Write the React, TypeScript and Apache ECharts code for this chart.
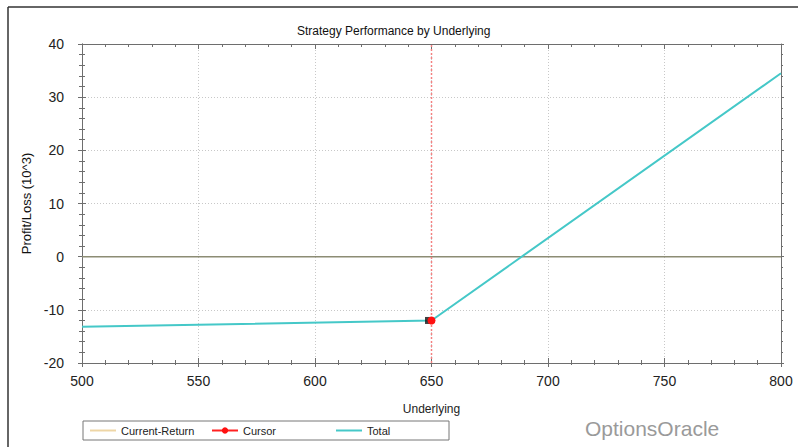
import React, { useEffect, useRef } from "react";
import * as echarts from "echarts";

const underlying = [500, 650, 800];
const total = [-13.2, -12.0, 34.5];
const currentReturn = [0, 0, 0];
const cursorX = [650];
const cursorY = [-12.0];
const xTicks = { min: 500, max: 800, interval: 50 };
const yTicks = { min: -20, max: 40, interval: 10 };

const FONT = "'Liberation Sans', Arial, sans-serif";

export default function App() {
  const ref = useRef<HTMLDivElement>(null);
  useEffect(() => {
    const chart = echarts.init(ref.current!, undefined, { renderer: "svg" });
    const axisColor = "#6e6e6e";
    const gridStyle = { show: true, lineStyle: { color: "#c8c8c8", type: [1, 2] as any, width: 1 } };
    const baseX = {
      type: "value" as const,
      min: xTicks.min,
      max: xTicks.max,
      interval: xTicks.interval,
      axisLine: { show: true, onZero: false, lineStyle: { color: axisColor, width: 1 } },
    };
    const baseY = {
      type: "value" as const,
      min: yTicks.min,
      max: yTicks.max,
      interval: yTicks.interval,
      axisLine: { show: true, onZero: false, lineStyle: { color: axisColor, width: 1 } },
    };
    const legendText = { fontFamily: FONT, fontSize: 11, color: "#222" };
    chart.setOption({
      animation: false,
      backgroundColor: "#ffffff",
      title: {
        text: "Strategy Performance by Underlying",
        left: 292,
        top: 20,
        textStyle: { fontFamily: FONT, fontSize: 12, fontWeight: "normal", color: "#111" },
      },
      grid: { left: 82, top: 44, right: 17, bottom: 84 },
      legend: [
        {
          left: 85,
          top: 420,
          itemWidth: 26,
          itemHeight: 2,
          icon: "rect",
          data: [{ name: "Current-Return", itemStyle: { color: "#eed6a6" } }],
          textStyle: legendText,
        },
        {
          left: 206,
          top: 420,
          itemWidth: 26,
          itemHeight: 8,
          data: [{ name: "Cursor" }],
          textStyle: legendText,
        },
        {
          left: 331,
          top: 420,
          itemWidth: 26,
          itemHeight: 2,
          icon: "rect",
          data: [{ name: "Total" }],
          textStyle: legendText,
        },
      ],
      xAxis: [
        {
          ...baseX,
          position: "bottom",
          name: "Underlying",
          nameLocation: "middle",
          nameGap: 40,
          nameTextStyle: { fontFamily: FONT, fontSize: 12, color: "#222" },
          axisLabel: { fontFamily: FONT, fontSize: 14, color: "#222", margin: 11 },
          axisTick: { show: true, inside: false, length: 4, lineStyle: { color: axisColor } },
          minorTick: { show: true, splitNumber: 5, length: 2, lineStyle: { color: axisColor } },
          splitLine: gridStyle,
        },
        {
          ...baseX,
          position: "bottom",
          axisLabel: { show: false },
          axisTick: { show: true, inside: true, length: 5, lineStyle: { color: axisColor } },
          minorTick: { show: true, splitNumber: 5, length: 3, lineStyle: { color: axisColor } },
          splitLine: { show: false },
        },
        {
          ...baseX,
          position: "top",
          axisLabel: { show: false },
          axisTick: { show: true, inside: true, length: 5, lineStyle: { color: axisColor } },
          minorTick: { show: true, splitNumber: 5, length: 3, lineStyle: { color: axisColor } },
          splitLine: { show: false },
        },
      ],
      yAxis: [
        {
          ...baseY,
          position: "left",
          name: "Profit/Loss (10^3)",
          nameLocation: "middle",
          nameGap: 47,
          nameRotate: 90,
          nameTextStyle: { fontFamily: FONT, fontSize: 13, color: "#111" },
          axisLabel: { fontFamily: FONT, fontSize: 14, color: "#222", margin: 18 },
          axisTick: { show: true, inside: false, length: 4, lineStyle: { color: axisColor } },
          minorTick: { show: true, splitNumber: 5, length: 3, lineStyle: { color: axisColor } },
          splitLine: gridStyle,
        },
        {
          ...baseY,
          position: "left",
          axisLabel: { show: false },
          axisTick: { show: true, inside: true, length: 4, lineStyle: { color: axisColor } },
          minorTick: { show: true, splitNumber: 5, length: 3, lineStyle: { color: axisColor } },
          splitLine: { show: false },
        },
        {
          ...baseY,
          position: "right",
          axisLabel: { show: false },
          axisTick: { show: true, inside: false, length: 3, lineStyle: { color: axisColor } },
          minorTick: { show: true, splitNumber: 5, length: 2, lineStyle: { color: axisColor } },
          splitLine: { show: false },
        },
      ],
      series: [
        {
          name: "Current-Return",
          type: "line",
          xAxisIndex: 0,
          yAxisIndex: 0,
          symbol: "none",
          data: underlying.map((x, i) => [x, currentReturn[i]]),
          lineStyle: { color: "#8c8c74", width: 1.5 },
          itemStyle: { color: "#eed6a6" },
          z: 2,
        },
        {
          name: "CursorLine",
          type: "line",
          xAxisIndex: 0,
          yAxisIndex: 0,
          symbol: "none",
          data: [
            [cursorX[0], yTicks.min],
            [cursorX[0], yTicks.max],
          ],
          lineStyle: { color: "#f48080", type: [2, 2] as any, width: 1.5, opacity: 1 },
          itemStyle: { color: "#f48080" },
          z: 6,
        },
        {
          name: "Total",
          type: "line",
          xAxisIndex: 0,
          yAxisIndex: 0,
          symbol: "none",
          data: underlying.map((x, i) => [x, total[i]]),
          lineStyle: { color: "#45c8c8", width: 2 },
          itemStyle: { color: "#45c8c8" },
          z: 3,
        },
        {
          name: "CursorBox",
          type: "scatter",
          xAxisIndex: 0,
          yAxisIndex: 0,
          symbol: "rect",
          symbolSize: 7,
          symbolOffset: [-3, 0],
          data: cursorX.map((x, i) => [x, cursorY[i]]),
          itemStyle: { color: "#111" },
          z: 7,
        },
        {
          name: "Cursor",
          type: "line",
          xAxisIndex: 0,
          yAxisIndex: 0,
          symbol: "circle",
          symbolSize: 8,
          data: cursorX.map((x, i) => [x, cursorY[i]]),
          lineStyle: { color: "#ff2020", width: 1 },
          itemStyle: { color: "#ff1010" },
          z: 8,
        },
      ],
      graphic: [
        { type: "line", shape: { x1: 8, y1: 7, x2: 798, y2: 7 }, style: { stroke: "#333", lineWidth: 1.5 } },
        { type: "line", shape: { x1: 8, y1: 7, x2: 8, y2: 447 }, style: { stroke: "#333", lineWidth: 1.5 } },
        { type: "rect", shape: { x: 83, y: 421, width: 366, height: 19 }, style: { fill: "none", stroke: "#777", lineWidth: 1 } },
        {
          type: "text",
          x: 585,
          y: 428,
          style: { text: "OptionsOracle", fill: "#9a9a9a", font: `21px ${FONT}`, textVerticalAlign: "middle" },
        },
      ],
    });
    return () => chart.dispose();
  }, []);
  return (
    <div
      ref={ref}
      style={{ position: "fixed", left: 0, top: 0, width: 798, height: 447, background: "#fff" }}
    />
  );
}
